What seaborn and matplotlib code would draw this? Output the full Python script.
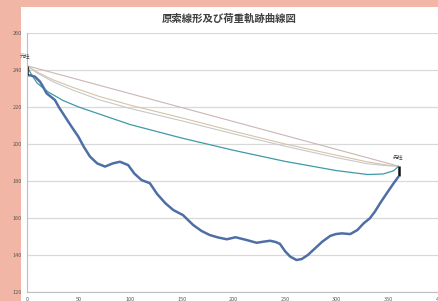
import numpy as np
import pandas as pd
import matplotlib
matplotlib.use("Agg")
import matplotlib.pyplot as plt
import seaborn as sns
from matplotlib.patches import Rectangle

title = "原索線形及び荷重軌跡曲線図"
label_start = "元柱"
label_end = "先柱"

x_ticks = [0, 50, 100, 150, 200, 250, 300, 350, 400]
y_ticks = [120, 140, 160, 180, 200, 220, 240, 260]

# load trajectory (thick blue)
load_x = [0, 4, 7.7, 12.6, 16, 19, 23, 27, 31, 36.8, 43, 49.7, 55, 61, 68, 75.6, 83, 90, 98,
          104, 111, 119, 126, 134, 141.7, 151, 161, 169, 177, 185, 193.5, 202, 212, 222.5,
          229, 235.5, 241, 245, 250, 255, 261, 266, 272, 279, 286, 293.6, 299, 305, 313, 320,
          326, 332, 337, 342, 348, 355, 360]
load_y = [237.3, 237.0, 236.4, 233.7, 230.5, 227.4, 225.6, 223.8, 219.8, 214.8, 209.5, 204,
          198.5, 193.2, 189.5, 187.8, 189.5, 190.4, 188.6, 184.0, 180.5, 178.8, 173.0, 168,
          164.3, 161.6, 156.2, 153.0, 150.8, 149.5, 148.5, 149.6, 148.2, 146.6, 147.2, 147.7,
          147.0, 146.0, 142.0, 139.1, 137.3, 137.8, 140.0, 143.6, 147.2, 150.3, 151.3, 151.7,
          151.3, 153.5, 157.1, 159.8, 163.5, 168, 173.0, 178.7, 182.5]

# support end markers (black)
post_left_x = [0, 0]
post_left_y = [242.3, 237.3]
post_right_x = [360, 360]
post_right_y = [188.0, 182.5]

# cable curves
chord_x = [0, 360]
chord_y = [242.3, 188.0]

tan_x = [0, 10, 25, 45, 70, 100, 150, 200, 250, 300, 330, 350, 360]
tan_y = [242.3, 238.8, 234.7, 230.5, 225.7, 221.0, 214.1, 206.9, 200.0, 193.9, 190.3, 188.5, 188.0]

gray_x = [0, 10, 25, 45, 70, 100, 150, 200, 250, 300, 330, 350, 360]
gray_y = [242.3, 238.3, 233.7, 229.0, 223.9, 219.2, 212.5, 205.5, 198.8, 192.6, 189.3, 188.2, 188.0]

teal_x = [0, 4, 10, 20, 35, 50, 70, 100, 150, 200, 250, 300, 330, 345, 355, 360]
teal_y = [242.3, 237.8, 232.8, 228.3, 223.5, 220.0, 216.2, 210.5, 203.2, 196.6, 190.6, 185.6,
          183.5, 183.8, 185.5, 188.0]

sns.set_theme(style="white")
plt.rcParams['font.family'] = ['Noto Sans CJK JP', 'DejaVu Sans']

fig = plt.figure(figsize=(4.38, 3.01), dpi=100)
fig.patch.set_facecolor("#f2b6a6")
bg = Rectangle((21/438, 0), 1, 294/301, transform=fig.transFigure,
               facecolor="white", edgecolor="none", zorder=-10)
fig.add_artist(bg)
ax = fig.add_axes([27/438, 9/301, 413/438, 259/301])
ax.set_zorder(1)
ax.set_facecolor("white")

def draw(xs, ys, color, lw):
    df = pd.DataFrame({"x": xs, "y": ys})
    sns.lineplot(data=df, x="x", y="y", sort=False, color=color, linewidth=lw, ax=ax,
                 estimator=None)
    ax.lines[-1].set_solid_joinstyle("round")
    ax.lines[-1].set_solid_capstyle("butt")

draw(chord_x, chord_y, "#cdb5b5", 0.8)
draw(tan_x, tan_y, "#d6c2a8", 0.8)
draw(gray_x, gray_y, "#c8c8c8", 0.8)
draw(teal_x, teal_y, "#3e9aa8", 0.9)
draw(load_x, load_y, "#4e6fa6", 1.8)
draw(post_left_x, post_left_y, "#111111", 1.8)
draw(post_right_x, post_right_y, "#111111", 1.8)

ax.set_xlim(0, 400)
ax.set_ylim(120, 260)
ax.set_xticks(x_ticks)
ax.set_yticks(y_ticks)
ax.set_xticklabels([str(v) for v in x_ticks])
ax.set_yticklabels([str(v) for v in y_ticks])
ax.tick_params(axis="both", labelsize=4, colors="#595959", length=2, width=0.5, pad=1.5)
ax.yaxis.grid(True, color="#d9d9d9", linewidth=0.9)
ax.xaxis.grid(False)
ax.set_xlabel("")
ax.set_ylabel("")
for s in ["top", "right"]:
    ax.spines[s].set_visible(False)
for s in ["left", "bottom"]:
    ax.spines[s].set_color("#bfbfbf")
    ax.spines[s].set_linewidth(0.8)

ax.text(-2, 247.5, label_start, fontsize=3.8, color="#404040", ha="center", va="center")
ax.text(359.5, 193.0, label_end, fontsize=3.8, color="#404040", ha="center", va="center")

fig.text(229/438, 1 - 19/301, title, fontsize=7.5, fontweight="bold", color="#404040",
         ha="center", va="center")

fig.savefig("out.png", dpi=100, facecolor=fig.get_facecolor())
